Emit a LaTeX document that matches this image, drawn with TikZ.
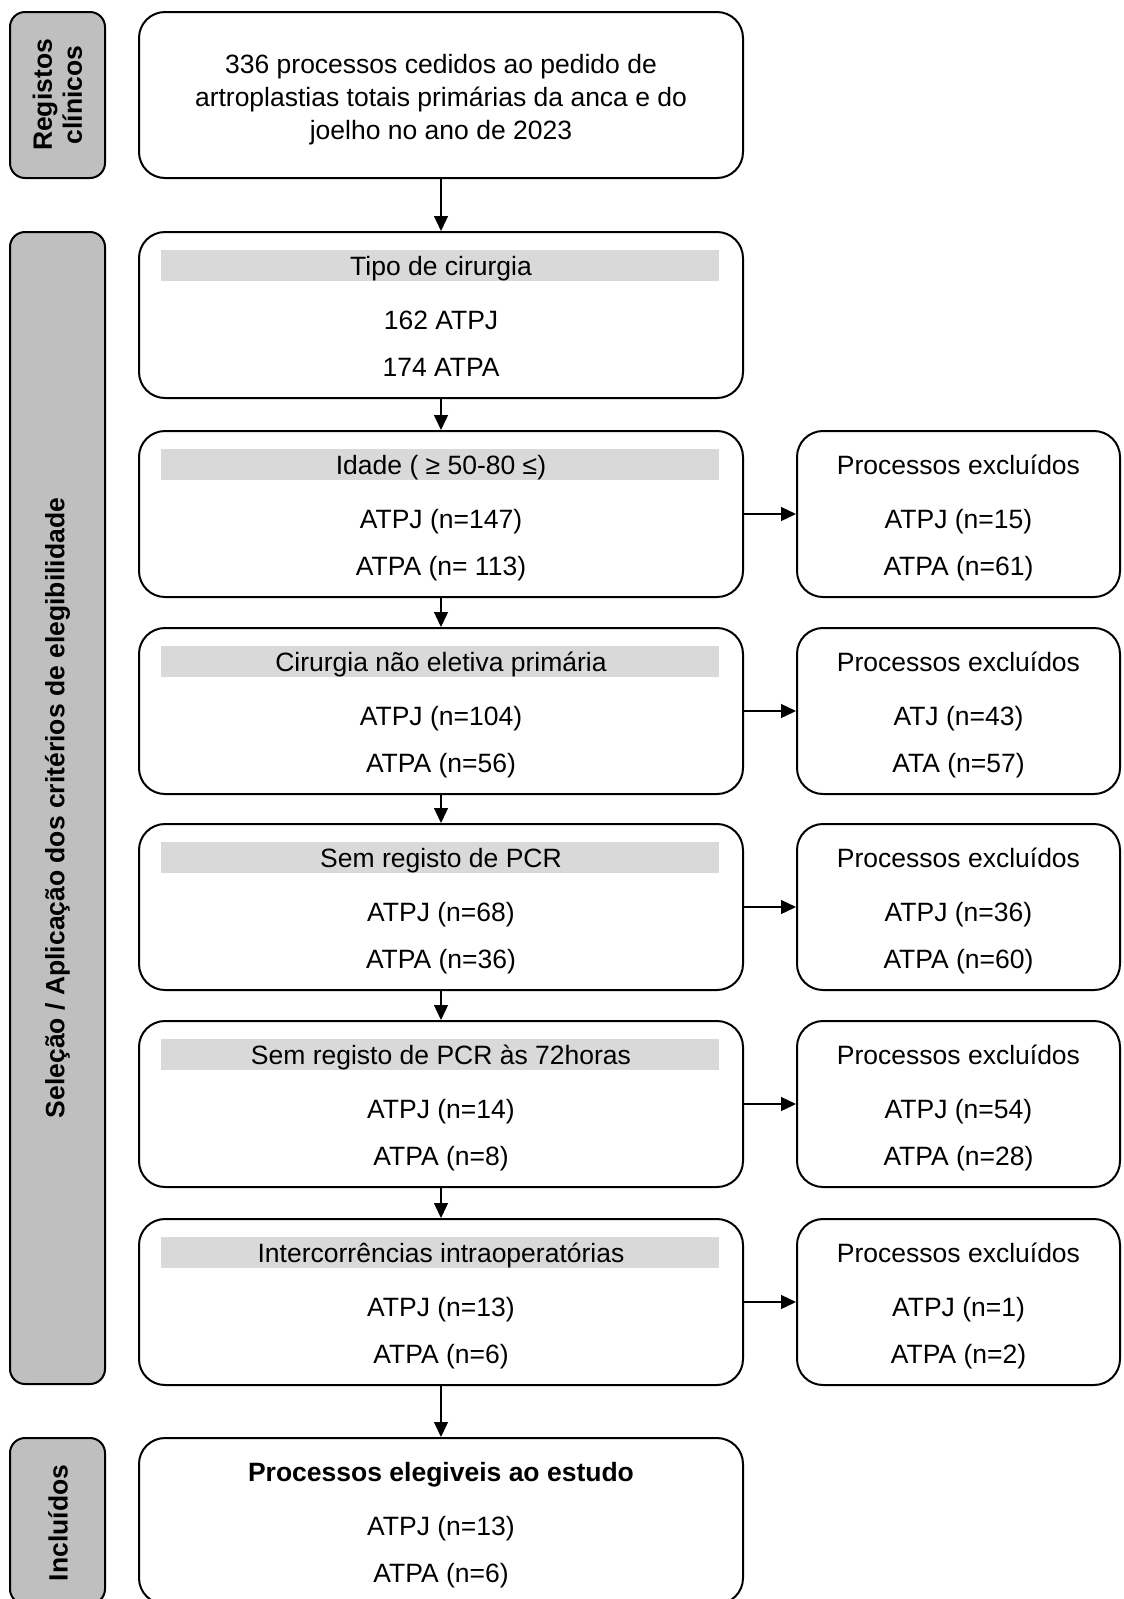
\documentclass[tikz,border=0pt]{standalone}
\usepackage{fontspec}
\setmainfont{Liberation Sans}
\usetikzlibrary{arrows.meta,calc}
\definecolor{labelgray}{HTML}{BFBFBF}
\definecolor{bargray}{HTML}{D9D9D9}
\begin{document}
\begin{tikzpicture}[x=1pt,y=-1pt,
  every node/.style={font=\fontsize{26.5}{33}\selectfont},
  mainbox/.style={draw, line width=2pt, rounded corners=26pt, minimum width=604pt, minimum height=166pt, inner sep=0pt, fill=white},
  sidebox/.style={draw, line width=2pt, rounded corners=26pt, minimum width=323pt, minimum height=166pt, inner sep=0pt, fill=white},
  lblbox/.style={draw, line width=2pt, rounded corners=15pt, minimum width=95pt, inner sep=0pt, fill=labelgray},
  lbltext/.style={rotate=90, font=\fontsize{26.5}{30}\selectfont\bfseries, align=center},
  bar/.style={fill=bargray, minimum width=558pt, minimum height=31pt, inner sep=0pt},
  txt/.style={inner sep=0pt, anchor=base},
  arr/.style={line width=1.3pt, -{Triangle[length=15pt,width=14pt]}}
]
\clip (0,0) rectangle (1124,1599);
\useasboundingbox (0,0) rectangle (1124,1599);

% left labels
\node[lblbox, minimum height=166pt] (L1) at (57.5,95) {};
\node[lbltext] (L1t) at (L1.center) {Registos\\clínicos};
\node[lblbox, minimum height=166pt] (L2) at (57.5,808) [minimum height=1152pt] {};
\node[lbltext] (L2t) at (L2.center) {Seleção / Aplicação dos critérios de elegibilidade};
\node[lblbox, minimum height=166pt] (L3) at (57.5,1521) {};
\node[lbltext] (L3t) at (58,1523) {Incluídos};

% top box
\node[mainbox] (B1) at (441,95) {};
\node[align=center, inner sep=0pt] (B1t) at (441,100) {336 processos cedidos ao pedido de\\artroplastias totais primárias da anca e do\\joelho no ano de 2023};

% step boxes
\node[mainbox] (B2) at (441,315) {};
\node[bar] (B2b) at ($(B2.north)+(-1,34.5)$) {};
\node[txt] (B2t) at ($(B2.north)+(0,44.5)$) {Tipo de cirurgia};
\node[txt] (B2a) at ($(B2.north)+(0,98.5)$) {162 ATPJ};
\node[txt] (B2c) at ($(B2.north)+(0,145.5)$) {174 ATPA};

\node[mainbox] (B3) at (441,514) {};
\node[bar] (B3b) at ($(B3.north)+(-1,34.5)$) {};
\node[txt] (B3t) at ($(B3.north)+(0,44.5)$) {Idade ( ≥ 50-80 ≤)};
\node[txt] (B3a) at ($(B3.north)+(0,98.5)$) {ATPJ (n=147)};
\node[txt] (B3c) at ($(B3.north)+(0,145.5)$) {ATPA (n= 113)};
\node[sidebox] (R3) at (958.5,514) {};
\node[txt] (R3t) at ($(R3.north)+(0,44.5)$) {Processos excluídos};
\node[txt] (R3a) at ($(R3.north)+(0,98.5)$) {ATPJ (n=15)};
\node[txt] (R3c) at ($(R3.north)+(0,145.5)$) {ATPA (n=61)};

\node[mainbox] (B4) at (441,711) {};
\node[bar] (B4b) at ($(B4.north)+(-1,34.5)$) {};
\node[txt] (B4t) at ($(B4.north)+(0,44.5)$) {Cirurgia não eletiva primária};
\node[txt] (B4a) at ($(B4.north)+(0,98.5)$) {ATPJ (n=104)};
\node[txt] (B4c) at ($(B4.north)+(0,145.5)$) {ATPA (n=56)};
\node[sidebox] (R4) at (958.5,711) {};
\node[txt] (R4t) at ($(R4.north)+(0,44.5)$) {Processos excluídos};
\node[txt] (R4a) at ($(R4.north)+(0,98.5)$) {ATJ (n=43)};
\node[txt] (R4c) at ($(R4.north)+(0,145.5)$) {ATA (n=57)};

\node[mainbox] (B5) at (441,907) {};
\node[bar] (B5b) at ($(B5.north)+(-1,34.5)$) {};
\node[txt] (B5t) at ($(B5.north)+(0,44.5)$) {Sem registo de PCR};
\node[txt] (B5a) at ($(B5.north)+(0,98.5)$) {ATPJ (n=68)};
\node[txt] (B5c) at ($(B5.north)+(0,145.5)$) {ATPA (n=36)};
\node[sidebox] (R5) at (958.5,907) {};
\node[txt] (R5t) at ($(R5.north)+(0,44.5)$) {Processos excluídos};
\node[txt] (R5a) at ($(R5.north)+(0,98.5)$) {ATPJ (n=36)};
\node[txt] (R5c) at ($(R5.north)+(0,145.5)$) {ATPA (n=60)};

\node[mainbox] (B6) at (441,1104) {};
\node[bar] (B6b) at ($(B6.north)+(-1,34.5)$) {};
\node[txt] (B6t) at ($(B6.north)+(0,44.5)$) {Sem registo de PCR às 72horas};
\node[txt] (B6a) at ($(B6.north)+(0,98.5)$) {ATPJ (n=14)};
\node[txt] (B6c) at ($(B6.north)+(0,145.5)$) {ATPA (n=8)};
\node[sidebox] (R6) at (958.5,1104) {};
\node[txt] (R6t) at ($(R6.north)+(0,44.5)$) {Processos excluídos};
\node[txt] (R6a) at ($(R6.north)+(0,98.5)$) {ATPJ (n=54)};
\node[txt] (R6c) at ($(R6.north)+(0,145.5)$) {ATPA (n=28)};

\node[mainbox] (B7) at (441,1302) {};
\node[bar] (B7b) at ($(B7.north)+(-1,34.5)$) {};
\node[txt] (B7t) at ($(B7.north)+(0,44.5)$) {Intercorrências intraoperatórias};
\node[txt] (B7a) at ($(B7.north)+(0,98.5)$) {ATPJ (n=13)};
\node[txt] (B7c) at ($(B7.north)+(0,145.5)$) {ATPA (n=6)};
\node[sidebox] (R7) at (958.5,1302) {};
\node[txt] (R7t) at ($(R7.north)+(0,44.5)$) {Processos excluídos};
\node[txt] (R7a) at ($(R7.north)+(0,98.5)$) {ATPJ (n=1)};
\node[txt] (R7c) at ($(R7.north)+(0,145.5)$) {ATPA (n=2)};

\node[mainbox] (B8) at (441,1521) {};
\node[txt, font=\fontsize{26.5}{33}\selectfont\bfseries] (B8t) at ($(B8.north)+(0,44.5)$) {Processos elegiveis ao estudo};
\node[txt] (B8a) at ($(B8.north)+(0,98.5)$) {ATPJ (n=13)};
\node[txt] (B8c) at ($(B8.north)+(0,145.5)$) {ATPA (n=6)};

% arrows
\draw[arr] (B1.south) -- (B2.north);
\draw[arr] (B2.south) -- (B3.north);
\draw[arr] (B3.south) -- (B4.north);
\draw[arr] (B4.south) -- (B5.north);
\draw[arr] (B5.south) -- (B6.north);
\draw[arr] (B6.south) -- (B7.north);
\draw[arr] (B7.south) -- (B8.north);
\draw[arr] (B3.east) -- (R3.west);
\draw[arr] (B4.east) -- (R4.west);
\draw[arr] (B5.east) -- (R5.west);
\draw[arr] (B6.east) -- (R6.west);
\draw[arr] (B7.east) -- (R7.west);
\end{tikzpicture}
\end{document}
